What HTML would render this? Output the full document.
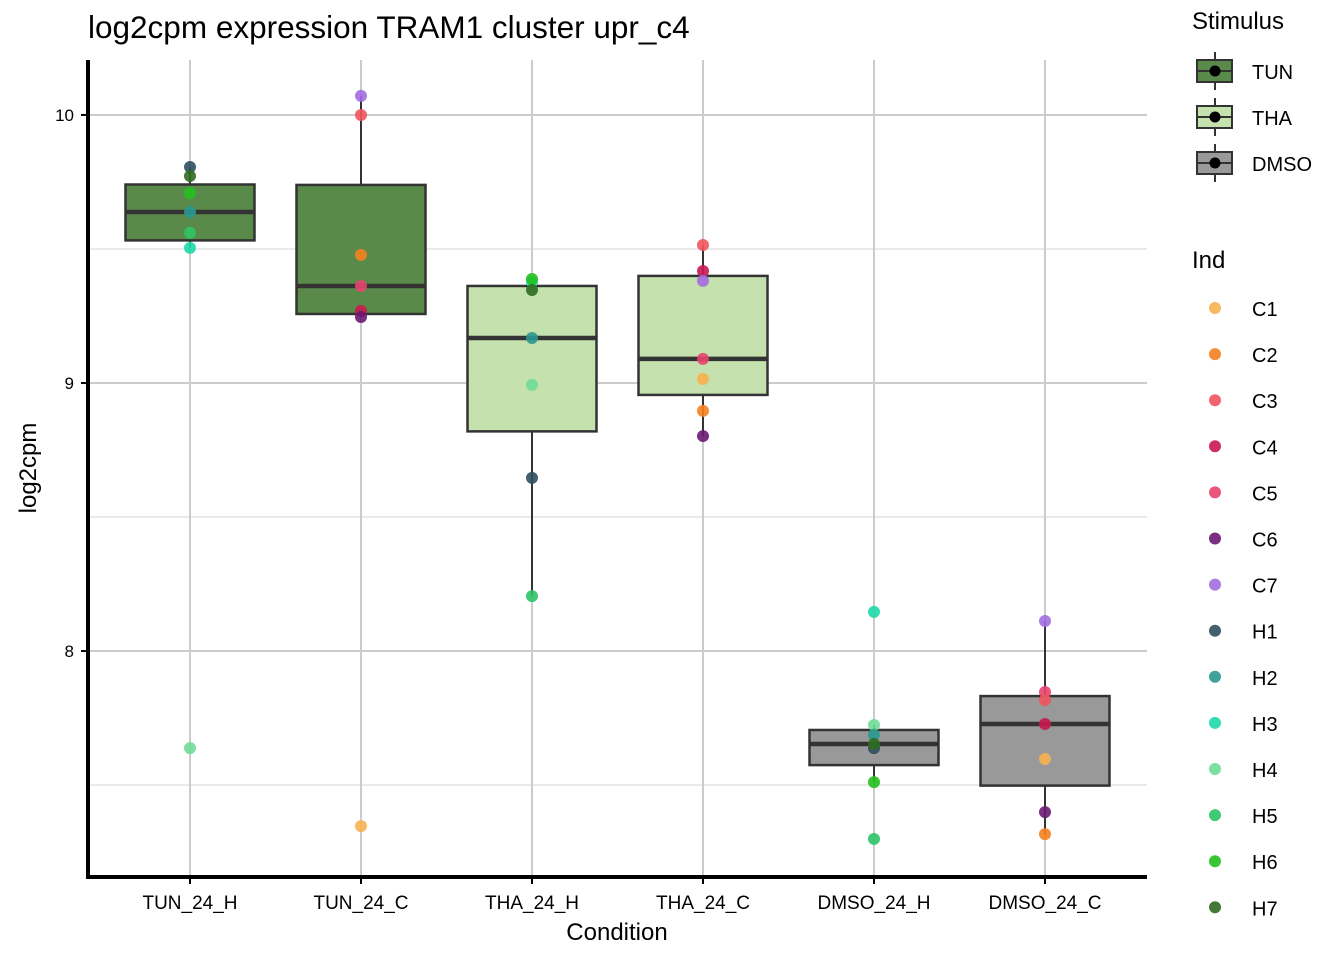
<!DOCTYPE html>
<html><head><meta charset="utf-8"><style>
body{margin:0;background:#fff;width:1344px;height:960px;overflow:hidden}
svg{font-family:"Liberation Sans",Arial,sans-serif}
</style></head><body>
<svg id="chart" width="1344" height="960" xmlns="http://www.w3.org/2000/svg"></svg>
<script>
const categories=["TUN_24_H","TUN_24_C","THA_24_H","THA_24_C","DMSO_24_H","DMSO_24_C"];
const stimulusOf=["TUN","TUN","THA","THA","DMSO","DMSO"];
const stimuli=["TUN","THA","DMSO"];
const stimulusFill=["#5a8a4a","#c5e1ae","#999999"];
const inds=["C1","C2","C3","C4","C5","C6","C7","H1","H2","H3","H4","H5","H6","H7"];
const indColors=["#f6b150","#f57f20","#f0545e","#c8194f","#e8426e","#6a1a72","#a36ce0","#2f4f5f","#2a9890","#1dd8a8","#6fdc98","#2ec366","#22c01e","#2e6b1f"];
const valsTUN_H=[["H1",9.806],["H7",9.772],["H6",9.709],["H2",9.638],["H5",9.560],["H3",9.504],["H4",7.638]];
const valsTUN_C=[["C7",10.071],["C3",10.0],["C2",9.478],["C5",9.362],["C4",9.269],["C6",9.246],["C1",7.347]];
const valsTHA_H=[["H3",9.377],["H6",9.388],["H7",9.347],["H2",9.168],["H4",8.993],["H1",8.646],["H5",8.205]];
const valsTHA_C=[["C3",9.515],["C4",9.418],["C7",9.381],["C5",9.090],["C1",9.015],["C2",8.896],["C6",8.802]];
const valsDMSO_H=[["H3",8.146],["H4",7.724],["H2",7.687],["H1",7.638],["H7",7.653],["H6",7.511],["H5",7.299]];
const valsDMSO_C=[["C7",8.112],["C5",7.847],["C3",7.817],["C4",7.728],["C1",7.597],["C6",7.399],["C2",7.317]];
const allVals=[valsTUN_H,valsTUN_C,valsTHA_H,valsTHA_C,valsDMSO_H,valsDMSO_C];
const yTicks=[8,9,10];
const yMinor=[7.5,8.5,9.5];

const NS="http://www.w3.org/2000/svg";
const svg=document.getElementById('chart');
const L=88,R=1147,T=60,B=877,yMin=7.157,yMax=10.205;
function yS(v){return B-(v-yMin)/(yMax-yMin)*(B-T);}
const step=171;
function xS(i){return 190+step*i;}
function mk(tag,attrs,parent){const e=document.createElementNS(NS,tag);for(const k in attrs)e.setAttribute(k,attrs[k]);(parent||svg).appendChild(e);return e;}
function q(s,p){const h=(s.length-1)*p,lo=Math.floor(h),hi=Math.ceil(h);return s[lo]+(s[hi]-s[lo])*(h-lo);}

yMinor.forEach(v=>{const l=mk('line',{x1:L,x2:R,y1:yS(v),y2:yS(v),stroke:'#e3e3e3','stroke-width':1.5});
});
yTicks.forEach(v=>{const l=mk('line',{x1:L,x2:R,y1:yS(v),y2:yS(v),stroke:'#cccccc','stroke-width':2});
});
categories.forEach((c,i)=>{const l=mk('line',{x1:xS(i),x2:xS(i),y1:T,y2:B,stroke:'#cccccc','stroke-width':2});
});

const bw=129;
categories.forEach((c,i)=>{
 const s=allVals[i].map(d=>d[1]).sort((a,b)=>a-b);
 const q1=q(s,.25),md=q(s,.5),q3=q(s,.75),iqr=q3-q1;
 const hiW=Math.max(...s.filter(v=>v<=q3+1.5*iqr)),loW=Math.min(...s.filter(v=>v>=q1-1.5*iqr));
 const g=mk('g',{});
 
 
 const x=xS(i),fill=stimulusFill[stimuli.indexOf(stimulusOf[i])];
 mk('line',{x1:x,x2:x,y1:yS(hiW),y2:yS(q3),stroke:'#333','stroke-width':2},g);
 mk('line',{x1:x,x2:x,y1:yS(q1),y2:yS(loW),stroke:'#333','stroke-width':2},g);
 mk('rect',{x:x-bw/2,y:yS(q3),width:bw,height:yS(q1)-yS(q3),fill:fill,stroke:'#333','stroke-width':2.5},g);
 mk('line',{x1:x-bw/2,x2:x+bw/2,y1:yS(md),y2:yS(md),stroke:'#333','stroke-width':4.5},g);
});
categories.forEach((c,i)=>{
 allVals[i].forEach(d=>{
  const p=mk('circle',{cx:xS(i),cy:yS(d[1]),r:6,fill:indColors[inds.indexOf(d[0])],'fill-opacity':0.9});
  
  
 });
});
let a=mk('line',{x1:L,x2:L,y1:T,y2:B+2,stroke:'#000','stroke-width':4});

a=mk('line',{x1:L-2,x2:R,y1:B,y2:B,stroke:'#000','stroke-width':4});

yTicks.forEach(v=>{
 mk('line',{x1:L-7,x2:L,y1:yS(v),y2:yS(v),stroke:'#000','stroke-width':2});
 const t=mk('text',{x:L-14,y:yS(v)+6,'text-anchor':'end','font-size':17,fill:'#000'});t.textContent=v;
 
});
categories.forEach((c,i)=>{
 mk('line',{x1:xS(i),x2:xS(i),y1:B,y2:B+7,stroke:'#000','stroke-width':2});
 const t=mk('text',{x:xS(i),y:909,'text-anchor':'middle','font-size':19,fill:'#000'});t.textContent=c;
 
});
let t=mk('text',{x:617,y:940,'text-anchor':'middle','font-size':24});t.textContent='Condition';

t=mk('text',{x:36,y:468,'text-anchor':'middle','font-size':24,transform:'rotate(-90 36 468)'});t.textContent='log2cpm';

t=mk('text',{x:88,y:38,'font-size':31.5});t.textContent='log2cpm expression TRAM1 cluster upr_c4';

t=mk('text',{x:1192,y:29,'font-size':24});t.textContent='Stimulus';

stimuli.forEach((s,k)=>{
 const y=71+k*46;const g=mk('g',{});
 
 mk('line',{x1:1215,x2:1215,y1:y-19,y2:y+19,stroke:'#333','stroke-width':2},g);
 mk('rect',{x:1197,y:y-11,width:35,height:22,fill:stimulusFill[k],stroke:'#333','stroke-width':2},g);
 mk('line',{x1:1197,x2:1232,y1:y,y2:y,stroke:'#333','stroke-width':2},g);
 mk('circle',{cx:1215,cy:y,r:5.5,fill:'#000'},g);
 const tt=mk('text',{x:1252,y:y+8,'font-size':20},g);tt.textContent=s;
});
t=mk('text',{x:1192,y:268,'font-size':24});t.textContent='Ind';

inds.forEach((s,k)=>{
 const y=308+k*46.1;const g=mk('g',{});
 
 mk('circle',{cx:1215,cy:y,r:6,fill:indColors[k],'fill-opacity':0.9},g);
 const tt=mk('text',{x:1252,y:y+8,'font-size':20},g);tt.textContent=s;
});
</script>
</body></html>
